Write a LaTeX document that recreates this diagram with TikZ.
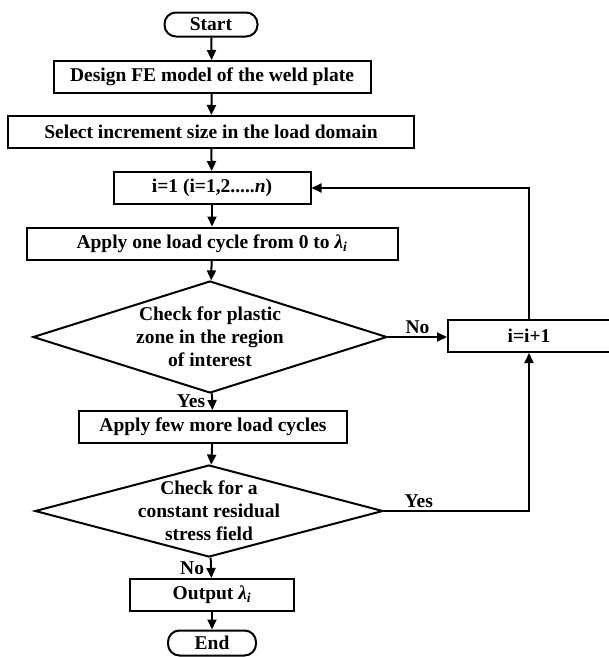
\documentclass[tikz,border=0pt]{standalone}
\usepackage{fontspec}
\setmainfont{Liberation Serif}
\usetikzlibrary{shapes.geometric,arrows.meta}
\tikzset{
  boxfont/.style={font=\fontsize{19.5}{23}\selectfont\bfseries},
  procbox/.style={draw, boxfont, line width=2pt, minimum height=32pt, inner sep=0pt},
  termbox/.style={procbox, rounded corners=11.5pt, minimum height=24pt},
  decbox/.style={draw, diamond, line width=2pt, inner sep=0pt},
  dectext/.style={boxfont, align=center, inner sep=0pt},
  tag/.style={boxfont, inner sep=2pt}
}
\begin{document}
\begin{tikzpicture}[x=1pt, y=-1pt, line width=2pt]
      \useasboundingbox (0,0) rectangle (609,657);
      \draw
        (211,24.5) node[termbox, minimum width=93pt] (start){Start}
        (212,77) node[procbox, minimum width=317pt] (design){Design FE model of the weld plate}
        (211,132) node[procbox, minimum width=406pt] (select){Select increment size in the load domain}
        (212,188) node[procbox, minimum width=197pt] (i1){i=1 (i=1,2.....\textit{n})}
        (212,243.5) node[procbox, minimum width=371pt] (apply){Apply one load cycle from 0 to \textit{λ}\textsubscript{\textit{i}}}
        (210,337) node[decbox, minimum width=354pt, minimum height=112pt,
          label={[dectext]center:Check for plastic\\zone in the region\\of interest}] (chk1){}
        (529,336) node[procbox, minimum width=162pt] (inc){i=i+1}
        (213,427) node[procbox, minimum width=268pt] (few){Apply few more load cycles}
        (209,511) node[decbox, minimum width=348pt, minimum height=92pt,
          label={[dectext]center:Check for a\\constant residual\\stress field}] (chk2){}
        (212,595) node[procbox, minimum width=164pt] (out){Output \textit{λ}\textsubscript{\textit{i}}}
        (212,643) node[termbox, minimum width=88pt, minimum height=25pt] (end){End};
      \begin{scope}[-{Triangle[length=10pt,width=9pt]}]
        \draw (start) to (design);
        \draw (design) to (select);
        \draw (select) to (i1);
        \draw (i1) to (apply);
        \draw (apply) to (chk1);
        \draw (chk1.east) to node[tag, above]{No} (chk1.east -| inc.west);
        \draw (chk1) to node[tag, left=4pt]{Yes} (few);
        \draw (few) to (chk2);
        \draw (chk2) to node[tag, left=4pt]{No} (out);
        \draw (out) to (end);
        \draw (inc.north) |- (i1.east);
        \draw (chk2.east) -| node[tag, pos=0.12, above]{Yes} (inc.south);
      \end{scope}
    \end{tikzpicture}
\end{document}
